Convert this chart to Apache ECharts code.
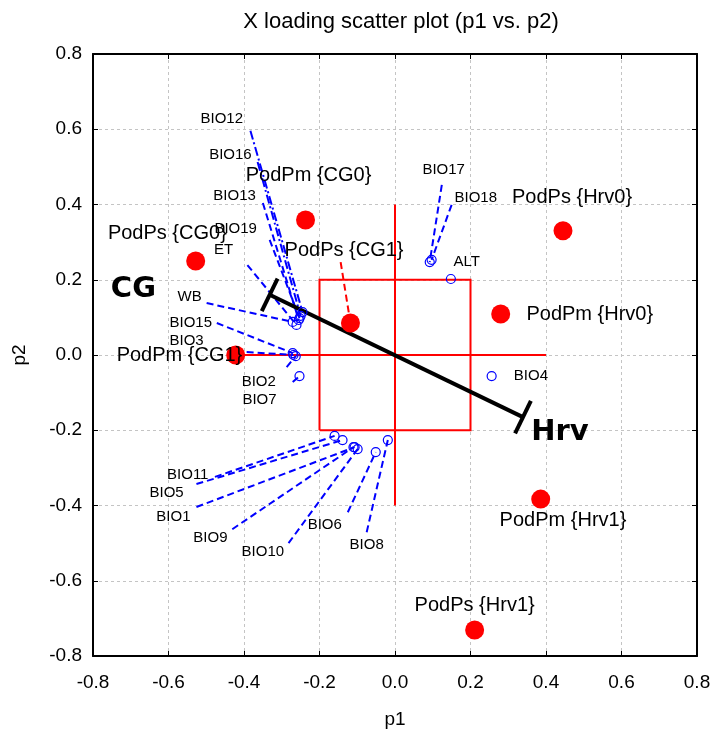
<!DOCTYPE html>
<html><head><meta charset="utf-8">
<script src="https://cdn.jsdelivr.net/npm/echarts@6/dist/echarts.min.js"></script>
<style>html,body{margin:0;padding:0;background:#fff}#chart{width:714px;height:733px}</style>
</head><body><div id="chart"></div>
<script>
// ---- variable loadings (blue circles) ----
const varNames   = ['BIO12','BIO16','BIO13','BIO19','ET','WB','BIO15','BIO3','BIO2','BIO7','BIO11','BIO5','BIO1','BIO9','BIO10','BIO6','BIO8','BIO17','BIO18','ALT','BIO4'];
const varP1      = [-0.245,-0.250,-0.255,-0.253,-0.261,-0.271,-0.271,-0.269,-0.263,-0.253,-0.160,-0.139,-0.107,-0.110,-0.099,-0.051,-0.019,0.092,0.097,0.148,0.256];
const varP2      = [0.114,0.104,0.093,0.098,0.080,0.088,0.005,0.000,-0.003,-0.056,-0.215,-0.226,-0.245,-0.245,-0.250,-0.258,-0.226,0.247,0.253,0.202,-0.056];
const varLabelP1 = [-0.459,-0.436,-0.425,-0.422,-0.454,-0.544,-0.541,-0.552,-0.361,-0.359,-0.549,-0.605,-0.587,-0.489,-0.350,-0.186,-0.075,0.129,0.214,0.190,0.360];
const varLabelP2 = [0.628,0.532,0.423,0.335,0.279,0.154,0.085,0.037,-0.072,-0.120,-0.319,-0.367,-0.431,-0.487,-0.524,-0.452,-0.505,0.492,0.418,0.247,-0.056];
const varLeadP1  = [-0.383,-0.364,-0.350,-0.332,-0.391,-0.499,-0.472,-0.393,-0.287,-0.271,-0.477,-0.526,-0.526,-0.431,-0.282,-0.125,-0.075,0.124,0.150,null,null];
const varLeadP2  = [0.596,0.513,0.404,0.306,0.239,0.138,0.085,0.008,-0.032,-0.072,-0.324,-0.343,-0.404,-0.463,-0.500,-0.418,-0.471,0.452,0.399,null,null];

// ---- group scores (red dots) ----
const groupNames   = ['PodPs {CG0}','PodPm {CG0}','PodPs {CG1}','PodPm {CG1}','PodPs {Hrv0}','PodPm {Hrv0}','PodPm {Hrv1}','PodPs {Hrv1}'];
const groupP1      = [-0.528,-0.237,-0.118,-0.422,0.445,0.280,0.386,0.211];
const groupP2      = [0.250,0.359,0.085,0.000,0.330,0.109,-0.383,-0.731];
const groupLabelP1 = [-0.603,-0.229,-0.135,-0.571,0.469,0.516,0.445,0.211];
const groupLabelP2 = [0.324,0.476,0.279,0.000,0.418,0.109,-0.439,-0.665];
const groupLeadP1  = [null,null,-0.144,null,null,null,null,null];
const groupLeadP2  = [null,null,0.247,null,null,null,null,null];

// ---- class axis CG – Hrv ----
const classNames   = ['CG','Hrv'];
const classEndP1   = [-0.332,0.339];
const classEndP2   = [0.160,-0.165];
const classLabelP1 = [-0.693,0.437];
const classLabelP2 = [0.173,-0.205];
const capHalf = 0.048;

// ---- reference box / cross ----
const boxHalf = [0.2];
const crossHalf = [0.4];

// ---- axis ticks ----
const axisMin = -0.8, axisMax = 0.8, axisStep = 0.2;

const dashDot = new Set(['BIO12','BIO16']);
const BLUE = '#0000ff', RED = '#ff0000';
const FONT = 'Liberation Sans, Arial, sans-serif';

// leader lines
const leadData = [];
varNames.forEach((n,i)=>{
  if (varLeadP1[i] == null) return;
  leadData.push({coords:[[varLeadP1[i],varLeadP2[i]],[varP1[i],varP2[i]]],
    lineStyle:{color:BLUE,width:2,opacity:1,type: dashDot.has(n)?[9,3,2,3]:[7,4]}});
});
const redLead = [];
groupNames.forEach((n,i)=>{
  if (groupLeadP1[i] == null) return;
  redLead.push({coords:[[groupLeadP1[i],groupLeadP2[i]],[groupP1[i],groupP2[i]]]});
});

// class axis with caps
const dx = classEndP1[1]-classEndP1[0], dy = classEndP2[1]-classEndP2[0];
const len = Math.hypot(dx,dy); const px = -dy/len, py = dx/len;
const classLines = [{coords:[[classEndP1[0],classEndP2[0]],[classEndP1[1],classEndP2[1]]]}];
for (let k=0;k<2;k++){
  classLines.push({coords:[[classEndP1[k]+px*capHalf,classEndP2[k]+py*capHalf],[classEndP1[k]-px*capHalf,classEndP2[k]-py*capHalf]]});
}

const b = boxHalf[0], c = crossHalf[0];
const boxLines = [
  {coords:[[-b,-b],[b,-b],[b,b],[-b,b],[-b,-b]]},
  {coords:[[-c,0],[c,0]]},
  {coords:[[0,-c],[0,c]]}
];

const fmt = v => v.toFixed(1);
const baseAxis = {
  type:'value', min:axisMin, max:axisMax, interval:axisStep,
  axisLine:{show:true,onZero:false,lineStyle:{color:'#000',width:2}},
  axisTick:{show:true,inside:true,length:5,lineStyle:{color:'#000',width:1}},
};
const textSeries = (names, xs, ys, labelStyle) => ({
  type:'scatter', z:6, symbolSize:1, silent:true,
  itemStyle:{color:'rgba(0,0,0,0)',opacity:1},
  label:Object.assign({show:true,position:'inside',formatter:p=>p.name,color:'#000',opacity:1}, labelStyle),
  data:names.map((n,i)=>({name:n,value:[xs[i],ys[i]]}))
});

const option = {
  animation:false,
  backgroundColor:'#fff',
  title:{text:'X loading scatter plot (p1 vs. p2)', left:396, top:6, textAlign:'center',
    textStyle:{fontFamily:FONT,fontSize:22,fontWeight:'normal',color:'#000'}},
  grid:{left:93,right:17,top:54,bottom:77,containLabel:false,outerBoundsMode:'none'},
  xAxis:[
    Object.assign({}, baseAxis, {position:'bottom', name:'p1', nameLocation:'middle', nameGap:54,
      nameTextStyle:{fontFamily:FONT,fontSize:19,color:'#000'},
      axisLabel:{formatter:fmt,fontFamily:FONT,fontSize:19,color:'#000',margin:17},
      splitLine:{show:true,lineStyle:{color:'#c4c4c4',type:[3,3],width:1}}}),
    Object.assign({}, baseAxis, {position:'top', axisLabel:{show:false}, splitLine:{show:false}})
  ],
  yAxis:[
    Object.assign({}, baseAxis, {position:'left', name:'p2', nameLocation:'middle', nameGap:64,
      nameTextStyle:{fontFamily:FONT,fontSize:19,color:'#000'},
      axisLabel:{formatter:fmt,fontFamily:FONT,fontSize:19,color:'#000',margin:11},
      splitLine:{show:true,lineStyle:{color:'#c4c4c4',type:[3,3],width:1}}}),
    Object.assign({}, baseAxis, {position:'right', axisLabel:{show:false}, splitLine:{show:false}})
  ],
  series:[
    {type:'lines', coordinateSystem:'cartesian2d', polyline:true, z:2, silent:true,
      lineStyle:{color:RED,width:2,opacity:1}, data:boxLines},
    {type:'lines', coordinateSystem:'cartesian2d', z:3, silent:true,
      lineStyle:{color:RED,width:2,opacity:1,type:[7,4]}, data:redLead},
    {type:'lines', coordinateSystem:'cartesian2d', z:3, silent:true, data:leadData},
    {type:'lines', coordinateSystem:'cartesian2d', z:4, silent:true,
      lineStyle:{color:'#000',width:4,opacity:1}, data:classLines},
    {type:'scatter', z:5, symbol:'circle', symbolSize:9, silent:true,
      itemStyle:{color:'rgba(0,0,0,0)',borderColor:BLUE,borderWidth:1.2,opacity:1},
      data:varNames.map((n,i)=>[varP1[i],varP2[i]])},
    {type:'scatter', z:5, symbol:'circle', symbolSize:19, silent:true, itemStyle:{color:RED,opacity:1},
      data:groupNames.map((n,i)=>[groupP1[i],groupP2[i]])},
    textSeries(varNames, varLabelP1, varLabelP2, {fontFamily:FONT,fontSize:15}),
    textSeries(groupNames, groupLabelP1, groupLabelP2, {fontFamily:FONT,fontSize:20}),
    textSeries(classNames, classLabelP1, classLabelP2, {fontFamily:'DejaVu Sans, sans-serif',fontSize:29,fontWeight:'bold'})
  ]
};
echarts.init(document.getElementById('chart')).setOption(option);
</script></body></html>
